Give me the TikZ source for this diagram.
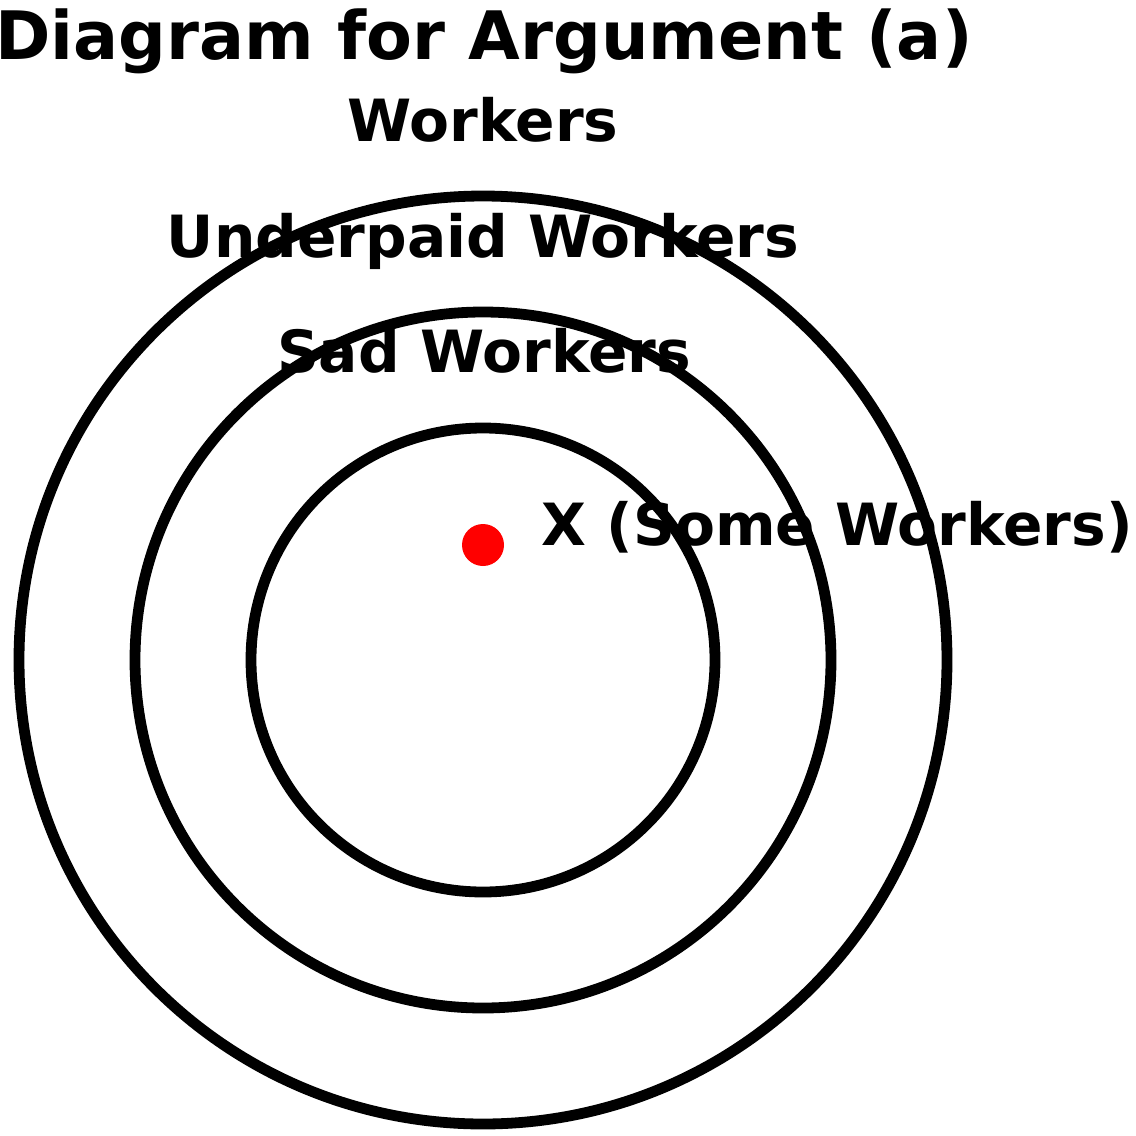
\documentclass[tikz,border=0pt]{standalone}
\usepackage{fontspec}
\setmainfont{DejaVu Sans}
\usetikzlibrary{positioning}

\begin{document}
\begin{tikzpicture}[x=.5pt,y=-.5pt,
		lbl/.style={inner sep=0pt,anchor=base,font=\bfseries\fontsize{29.1}{35}\selectfont}]
		\useasboundingbox (0,0) rectangle (1136,1136);
		\coordinate (ctr) at (483,660);
		\node [lbl,font=\bfseries\fontsize{33.4}{40}\selectfont] (title) at (484,59) {Diagram for Argument (a)};
		\node [lbl] (wk) at (483,141) {Workers};
		\node [lbl] (uw) at (483,257) {Underpaid Workers};
		\node [lbl] (sw) at (484,372) {Sad Workers};
		\foreach \rr in {2,3,4}
		{
			\draw [line width=5.4pt] (ctr) circle [radius=\rr*58pt];
		}
		\fill [red] (483,545) circle [radius=10.5pt] coordinate (x);
		\node [lbl,anchor=base west] (xl) at (541,545) {X (Some Workers)};
	\end{tikzpicture}
\end{document}
